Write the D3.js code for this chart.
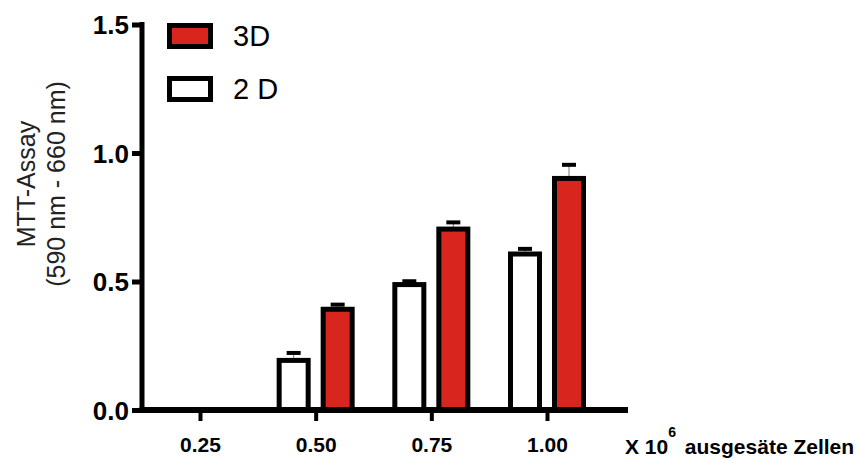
<!DOCTYPE html>
<html><head><meta charset="utf-8">
<script src="https://cdn.jsdelivr.net/npm/d3@7"></script>
<style>
html,body{margin:0;padding:0;background:#fff;}
text{font-family:"Liberation Sans",Arial,Helvetica,sans-serif;}
</style></head>
<body><svg id="chart" width="856" height="459"></svg>
<script>
const categories = ["0.25","0.50","0.75","1.00"];
const series = ["2D","3D"];
const values2D = [null, 0.193, 0.488, 0.607];
const errors2D = [null, 0.029, 0.013, 0.020];
const values3D = [null, 0.392, 0.704, 0.901];
const errors3D = [null, 0.018, 0.026, 0.053];
const yTicks = [0, 0.5, 1.0, 1.5];
const legendLabels = ["3D", "2 D"];
const colors = {"2D": "#ffffff", "3D": "#d8261f"};

const svg = d3.select("#chart");
const y = d3.scaleLinear().domain([0, 1.5]).range([410, 24.5]);
const x = d3.scalePoint().domain(categories).range([200, 547]);
const x1 = d3.scaleBand().domain(series).range([-36.5, 36.5]).paddingInner(0.341).paddingOuter(0);

const data = [];
categories.forEach((c, i) => {
  data.push({cat: c, s: "2D", v: values2D[i], e: errors2D[i]});
  data.push({cat: c, s: "3D", v: values3D[i], e: errors3D[i]});
});
const valid = data.filter(d => d.v != null);

// error bars (drawn first, under bars)
const eg = svg.append("g");
valid.forEach(d => {
  const cx = x(d.cat) + x1(d.s) + x1.bandwidth() / 2;
  eg.append("line").attr("x1", cx).attr("x2", cx)
    .attr("y1", y(d.v)).attr("y2", y(d.v + d.e))
    .attr("stroke", "#777").attr("stroke-width", 1);
  eg.append("line").attr("x1", cx - 7).attr("x2", cx + 7)
    .attr("y1", y(d.v + d.e)).attr("y2", y(d.v + d.e))
    .attr("stroke", "#000").attr("stroke-width", 4);
});

// bars
svg.append("g").selectAll("rect").data(valid).join("rect")
  .attr("x", d => x(d.cat) + x1(d.s))
  .attr("width", x1.bandwidth())
  .attr("y", d => y(d.v))
  .attr("height", d => y(0) - y(d.v))
  .attr("fill", d => colors[d.s])
  .attr("stroke", "#000").attr("stroke-width", 5);

// y axis
const yAxis = svg.append("g").attr("transform", "translate(142,0)")
  .call(d3.axisLeft(y).tickValues(yTicks).tickFormat(d3.format(".1f")).tickSize(10).tickPadding(3));
yAxis.select(".domain").remove();
yAxis.selectAll(".tick line").attr("stroke", "#000").attr("stroke-width", 5);
yAxis.selectAll(".tick text").attr("font-size", 26).attr("font-weight", "bold")
  .attr("fill", "#000").attr("dy", "0.36em")
  .attr("font-family", "Liberation Sans, Arial, sans-serif");
svg.append("line").attr("x1", 142).attr("x2", 142).attr("y1", 22).attr("y2", 412.5)
  .attr("stroke", "#000").attr("stroke-width", 5);

// x axis
const xAxis = svg.append("g").attr("transform", "translate(0,410)")
  .call(d3.axisBottom(x).tickSize(11).tickPadding(16));
xAxis.select(".domain").remove();
xAxis.selectAll(".tick line").attr("stroke", "#000").attr("stroke-width", 4);
xAxis.selectAll(".tick text").attr("font-size", 21).attr("font-weight", "bold")
  .attr("fill", "#000").attr("font-family", "Liberation Sans, Arial, sans-serif");
svg.append("line").attr("x1", 139.5).attr("x2", 628).attr("y1", 410).attr("y2", 410)
  .attr("stroke", "#000").attr("stroke-width", 6);

// x axis title
const xt = svg.append("text").attr("x", 625).attr("y", 454)
  .attr("font-size", 21).attr("font-weight", "bold").attr("fill", "#000");
xt.append("tspan").text("X 10");
xt.append("tspan").attr("font-size", 14).attr("dy", -17).attr("dx", 0).text("6");
xt.append("tspan").attr("dy", 17).attr("dx", 3).text(" ausgesäte Zellen");

// y axis title
const yt = svg.append("text").attr("transform", "translate(35,184) rotate(-90)")
  .attr("text-anchor", "middle").attr("font-size", 25).attr("fill", "#222");
yt.append("tspan").attr("x", 0).attr("y", 0).text("MTT-Assay");
yt.append("tspan").attr("x", 0).attr("y", 30).text("(590 nm - 660 nm)");

// legend
const legendColors = [colors["3D"], colors["2D"]];
const lg = svg.append("g");
legendLabels.forEach((l, i) => {
  const yy = 25.5 + i * 53;
  lg.append("rect").attr("x", 169.5).attr("y", yy).attr("width", 41).attr("height", 21)
    .attr("fill", legendColors[i]).attr("stroke", "#000").attr("stroke-width", 5);
  lg.append("text").attr("x", 233).attr("y", yy + 20.5).attr("font-size", 29)
    .attr("fill", "#000").text(l);
});
</script></body></html>
